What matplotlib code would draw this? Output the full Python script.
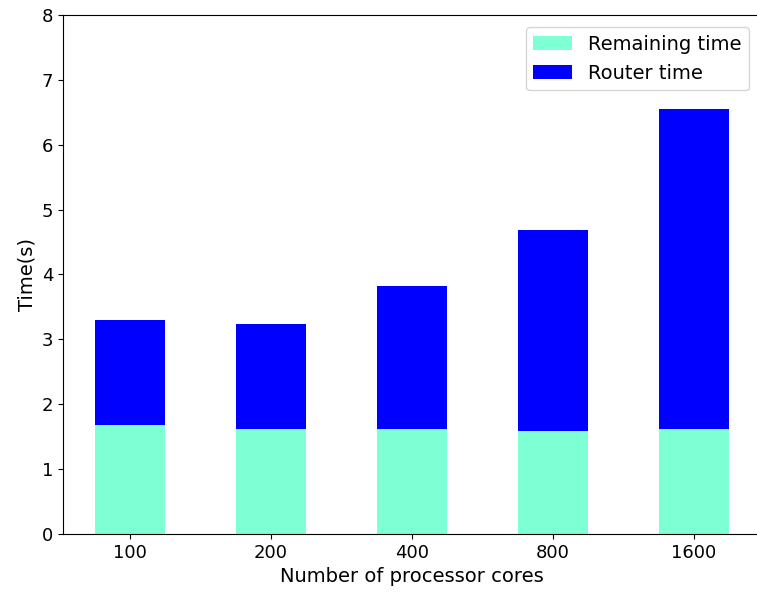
import matplotlib
matplotlib.use("Agg")
import matplotlib.pyplot as plt
import numpy as np

categories = ["100", "200", "400", "800", "1600"]
remaining = [1.68, 1.62, 1.62, 1.59, 1.62]
total = [3.30, 3.24, 3.82, 4.68, 6.55]
router = [t - r for t, r in zip(total, remaining)]

fig = plt.figure(figsize=(7.57, 5.96), dpi=100)
ax = fig.add_axes([0.0832, 0.104, 0.922, 0.871])
x = np.arange(len(categories))
ax.bar(x, remaining, width=0.5, color="aquamarine", label="Remaining time")
ax.bar(x, router, width=0.5, bottom=remaining, color="blue", label="Router time")
ax.set_xticks(x)
ax.set_xticklabels(categories)
ax.set_xlim(-0.475, 4.475)
ax.set_ylim(0, 8)
ax.tick_params(labelsize=13)
ax.set_xlabel("Number of processor cores", fontsize=14)
ax.set_ylabel("Time(s)", fontsize=14)
ax.legend(loc="upper right", fontsize=14, bbox_to_anchor=(0.997, 0.995))
fig.savefig("out.png", dpi=100)
